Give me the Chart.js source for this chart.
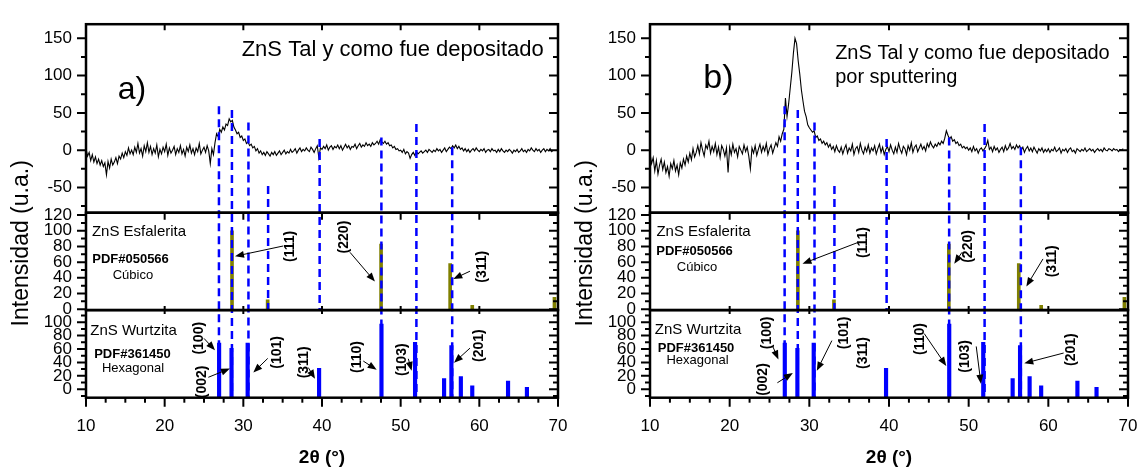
<!DOCTYPE html>
<html lang="es">
<head>
<meta charset="UTF-8">
<title>DRX ZnS</title>
<script src="https://cdn.jsdelivr.net/npm/chart.js"></script>
<style>
  body { margin: 0; background: #fff; }
  .panel { position: absolute; top: 0; height: 473px; }
  #panelA { left: 0; width: 570px; }
  #panelB { left: 570px; width: 571px; }
</style>
</head>
<body>
<div class="panel" id="panelA"><canvas id="chartA"></canvas></div>
<div class="panel" id="panelB"><canvas id="chartB"></canvas></div>
<script>
// 2θ scan: start angle and step (degrees)
const scanStart = 10;
const scanStep = 0.2;

// a) ZnS tal y como fue depositado
const intensityA = [
  2, -8, -3, -14, -6, -16, -9, -18, -12, -20,      // 10
  -14, -22, -17, -33, -15, -24, -12, -20, -16, -10, // 12
  -18, -8, -12, -4, -10, -2, -7, 3, -5, 0,         // 14
  -6, 4, -3, 9, -4, 2, -8, 6, -2, 10,              // 16
  -3, 5, -6, 2, -4, 7, -9, 1, -5, 4,               // 18
  -2, 8, -7, 3, -4, 0, 5, -6, 2, -3,               // 20
  6, -5, 1, -8, 4, -2, 7, -4, 2, -6,               // 22
  3, -2, 9, -5, 0, 4, -3, 6, -1, -18,              // 24
  2, -6, 10, 22, 18, 28, 24, 31, 27, 35,           // 26
  33, 42, 38, 40, 31, 27, 22, 24, 17, 19,          // 28
  13, 15, 9, 11, 6, 8, 3, 5, -1, 2,                // 30
  -4, -1, -6, -3, -7, -2, -5, -8, -3, -6,          // 32
  -2, -7, -4, -1, -6, -3, 0, -5, -2, -4,           // 34
  1, -3, -1, 2, -4, 0, 3, -2, 1, -1,               // 36
  3, 0, -2, 4, 1, -3, 2, 6, -10, 3,                // 38
  1, 5, 2, 7, 0, 4, 6, 1, 5, 3,                    // 40
  7, 2, 6, 0, 4, 8, 3, 6, 1, 5,                    // 42
  4, 8, 2, 6, 9, 4, 7, 5, 10, 6,                   // 44
  8, 5, 10, 7, 9, 12, 8, 14, 11, 9,                // 46
  12, 8, 10, 6, 7, 3, 5, 1, 2, -1,                 // 48
  0, -3, 1, -5, -2, -4, -11, -6, -3, -7,           // 50
  -2, -5, -3, -1, -4, -2, 0, -3, 1, -1,            // 52
  -3, 0, -2, 2, -1, 1, -3, 0, 3, -2,               // 54
  1, 4, 2, 6, 3, 7, 2, 5, 1, 3,                    // 56
  -1, 2, -2, 1, -3, 0, 2, -1, 3, 0,                // 58
  -2, 1, -1, 2, -3, 0, 1, -2, 2, -1,               // 60
  0, -3, 1, -2, 2, -1, -3, 0, -2, 1,               // 62
  -1, -4, 0, -2, 1, -3, -1, 2, -2, 0,              // 64
  -3, 1, -1, 3, 0, -2, 2, -1, 1, -3,               // 66
  0, 2, -2, 1, -1, 2, -2, 0                        // 68
];

// b) ZnS tal y como fue depositado por sputtering
const intensityB = [
  -4, -18, -10, -28, -14, -32, -20, -12, -26, -16,   // 10
  -30, -22, -35, -18, -25, -14, -28, -20, -33, -17,  // 12
  -24, -12, -20, -8, -16, -4, -13, 2, -9, -3,        // 14
  6, -5, 10, 0, -8, 7, 2, 12, -4, 5,                 // 16
  -2, 9, -6, 4, -10, 6, 1, -8, 3, -30,               // 18
  4, -6, 8, -3, 2, -9, 5, 0, -5, 7,                  // 20
  -2, 4, -8, -25, 3, -4, 6, -7, 1, 8,                // 22
  -3, 5, -1, 9, -6, 2, 7, -4, 3, 10,                 // 24
  5, 18, 12, 22, 28, 70, 45, 62, 83, 104,            // 26
  130, 150, 143, 120, 102, 81, 66, 52, 45, 34,       // 28
  30, 27, 24, 26, 17, 19, 13, 15, 9, 12,             // 30
  7, 10, 4, 8, 1, 5, -2, 6, 0, -3,                   // 32
  4, -5, 2, 7, -4, 3, -1, 8, -6, 2,                  // 34
  5, -3, 9, 0, -5, 4, -2, 7, -4, 3,                  // 36
  -1, 6, -5, 2, 8, -3, 4, -6, 1, 5,                  // 38
  -2, 7, 0, -5, 4, -3, 9, 1, -4, 5,                  // 40
  2, -6, 6, 0, 10, -3, 4, 7, -2, 3,                  // 42
  8, 1, 5, -1, 9, 4, 11, 6, 3, 8,                    // 44
  5, 10, 7, 12, 9, 16, 26, 20, 15, 18,               // 46
  12, 14, 9, 11, 6, 8, 3, 5, 2, 4,                   // 48
  0, 3, -2, 5, -1, 2, -4, 1, 3, -1,                  // 50
  2, 6, 13, 1, 4, -2, 5, 0, 3, -3,                   // 52
  1, 4, -2, 6, 0, 3, 9, 2, 5, 1,                     // 54
  7, 3, 6, 0, 4, -3, 2, 5, -1, 3,                    // 56
  -2, 4, 0, -4, 2, -1, 3, -3, 1, -2,                 // 58
  2, -3, 1, -1, 4, -2, 0, 3, -4, 1,                  // 60
  -1, 2, -3, 1, 3, -2, 0, -4, 2, 0,                  // 62
  -2, 1, -1, 3, -2, 0, 2, -1, 1, -3,                 // 64
  0, 2, -1, 1, -2, 3, 0, -1, 2, 1,                   // 66
  -1, 2, 0, 1, -2, 1, 0, 2                           // 68
];

// ZnS Esfalerita, PDF#050566 (cúbico)
const esfaleritaPos = [28.56, 33.09, 47.51, 56.29, 59.1, 69.55];
const esfaleritaInt = [100, 12, 83, 58, 5, 15];

// ZnS Wurtzita, PDF#361450 (hexagonal)
const wurtzitaPos = [26.92, 28.5, 30.55, 39.63, 47.56, 51.83, 55.52, 56.45, 57.65, 59.1, 63.65, 66.05];
const wurtzitaInt = [69, 61, 69, 31, 97, 70, 16, 65, 19, 5, 12, 3];

// dashed guide lines: position, top (in the pattern axis) and the panel they end in
const guidePos = [26.9, 28.55, 30.65, 33.15, 39.7, 47.55, 52.0, 56.55];
const guideTop = [59, 54, 37, -48, 15, 17, 35, 4];
const guideEnd = ['y3', 'y3', 'y3', 'y2', 'y2', 'y3', 'y3', 'y3'];

// axis ranges of the three stacked frames
const y1Range = [-84, 169];
const y2Range = [-1.2, 123];
const y3Range = [-12.6, 118];

const FONT = '"Liberation Sans", Arial, sans-serif';
const BLUE = '#0000ff';
const OLIVE = '#808000';

// panel annotations
const panelA = {
  axisWidth: 86,
  padRight: 12,
  yTitleX: 22,
  texts: [
    ['ZnS Tal y como fue depositado', 29.79, 126, 'y1', '22px', 'left', 'alphabetic'],
    ['a)', 15.85, 80, 'y1', '32px', 'center', 'middle'],
    ['ZnS Esfalerita', 16.74, 98.3, 'y2', '15px', 'center', 'middle'],
    ['PDF#050566', 15.66, 64, 'y2', 'bold 13px', 'center', 'middle'],
    ['Cúbico', 15.97, 42.7, 'y2', '13px', 'center', 'middle'],
    ['ZnS Wurtzita', 16.04, 87, 'y3', '15px', 'center', 'middle'],
    ['PDF#361450', 15.91, 51.7, 'y3', 'bold 13px', 'center', 'middle'],
    ['Hexagonal', 15.97, 30.9, 'y3', '13px', 'center', 'middle']
  ],
  hkl: [
    ['(111)', 35.93, 80, 'y2'],
    ['(220)', 42.79, 92, 'y2'],
    ['(311)', 60.30, 54, 'y2'],
    ['(100)', 24.36, 76, 'y3'],
    ['(002)', 24.71, 11, 'y3'],
    ['(101)', 34.24, 55, 'y3'],
    ['(311)', 37.75, 40, 'y3'],
    ['(110)', 44.41, 48, 'y3'],
    ['(103)', 50.13, 44, 'y3'],
    ['(201)', 59.96, 65, 'y3']
  ],
  arrows: [
    ['y2', 35.08, 80.6, 28.94, 67.5],
    ['y2', 43.56, 72.5, 46.73, 35.2],
    ['y2', 58.81, 48.4, 56.69, 38.5],
    ['y3', 25.0, 75.8, 26.4, 58],
    ['y3', 25.55, 17.8, 28.3, 30.9],
    ['y3', 33.1, 46, 31.27, 25],
    ['y3', 38.26, 32.3, 39.11, 15.5],
    ['y3', 45.25, 42, 46.95, 29],
    ['y3', 50.97, 45.4, 51.4, 27.5],
    ['y3', 58.81, 61.3, 56.78, 39.6]
  ]
};

const panelB = {
  axisWidth: 80,
  padRight: 13,
  yTitleX: 16,
  texts: [
    ['ZnS Tal y como fue depositado', 33.24, 122.3, 'y1', '20px', 'left', 'alphabetic'],
    ['por sputtering', 33.24, 90.5, 'y1', '20px', 'left', 'alphabetic'],
    ['b)', 18.58, 95.7, 'y1', '34px', 'center', 'middle'],
    ['ZnS Esfalerita', 16.72, 98.9, 'y2', '15px', 'center', 'middle'],
    ['PDF#050566', 15.59, 74, 'y2', 'bold 13px', 'center', 'middle'],
    ['Cúbico', 15.9, 53, 'y2', '13px', 'center', 'middle'],
    ['ZnS Wurtzita', 16.03, 88.4, 'y3', '15px', 'center', 'middle'],
    ['PDF#361450', 15.78, 61.3, 'y3', 'bold 13px', 'center', 'middle'],
    ['Hexagonal', 15.97, 43.5, 'y3', '13px', 'center', 'middle']
  ],
  hkl: [
    ['(111)', 36.80, 85, 'y2'],
    ['(220)', 49.99, 80, 'y2'],
    ['(311)', 60.54, 61, 'y2'],
    ['(100)', 24.66, 84, 'y3'],
    ['(002)', 24.23, 14.5, 'y3'],
    ['(101)', 34.37, 84, 'y3'],
    ['(311)', 36.80, 54, 'y3'],
    ['(110)', 43.92, 75, 'y3'],
    ['(103)', 49.57, 49, 'y3'],
    ['(201)', 62.85, 59, 'y3']
  ],
  arrows: [
    ['y2', 36.05, 84.9, 29.14, 58],
    ['y2', 49.16, 72.5, 48.19, 57.9],
    ['y2', 59.33, 64.1, 57.24, 29],
    ['y3', 25.41, 63.8, 26.12, 44.5],
    ['y3', 25.99, 9.7, 27.93, 24.2],
    ['y3', 32.83, 72.5, 30.94, 27.5],
    ['y3', 44.42, 83, 47.19, 34.8],
    ['y3', 50.95, 63.8, 51.54, 8.3],
    ['y3', 61.92, 54, 56.98, 38.7]
  ]
};

Chart.defaults.font.family = FONT;
Chart.defaults.color = '#000';

function drawArrow(ctx, x0, y0, x1, y1) {
  const ang = Math.atan2(y1 - y0, x1 - x0);
  const len = 9, half = 3.5;
  ctx.beginPath();
  ctx.moveTo(x0, y0);
  ctx.lineTo(x1 - Math.cos(ang) * len * 0.8, y1 - Math.sin(ang) * len * 0.8);
  ctx.stroke();
  ctx.beginPath();
  ctx.moveTo(x1, y1);
  ctx.lineTo(x1 - Math.cos(ang) * len - Math.sin(ang) * half, y1 - Math.sin(ang) * len + Math.cos(ang) * half);
  ctx.lineTo(x1 - Math.cos(ang) * len + Math.sin(ang) * half, y1 - Math.sin(ang) * len - Math.cos(ang) * half);
  ctx.closePath();
  ctx.fill();
}

// frames, tick marks, guide lines and labels drawn over the datasets
const decorPlugin = {
  id: 'decor',
  afterDatasetsDraw(chart, args, opts) {
    const { ctx, chartArea: area, scales } = chart;
    const xs = scales.x;
    const panel = opts.panel;
    ctx.save();

    // dashed guide lines
    ctx.strokeStyle = BLUE;
    ctx.lineWidth = 2.5;
    ctx.setLineDash([8, 5]);
    guidePos.forEach((pos, i) => {
      const px = xs.getPixelForValue(pos);
      ctx.beginPath();
      ctx.moveTo(px, scales.y1.getPixelForValue(guideTop[i]));
      ctx.lineTo(px, scales[guideEnd[i]].bottom);
      ctx.stroke();
    });
    ctx.setLineDash([]);

    // frames
    ctx.strokeStyle = '#000';
    ctx.lineWidth = 2.5;
    ['y1', 'y2', 'y3'].forEach(id => {
      const s = scales[id];
      ctx.strokeRect(area.left, s.top, area.right - area.left, s.bottom - s.top);
    });

    // y ticks: outward on the left, inward on the right
    ctx.lineWidth = 2;
    ['y1', 'y2', 'y3'].forEach(id => {
      const s = scales[id];
      s.ticks.forEach(t => {
        const py = s.getPixelForValue(t.value);
        if (py < s.top - 0.5 || py > s.bottom + 0.5) return;
        const len = t.label !== '' ? 9 : 5;
        ctx.beginPath();
        ctx.moveTo(area.left, py); ctx.lineTo(area.left - len, py);
        ctx.moveTo(area.right, py); ctx.lineTo(area.right - len, py);
        ctx.stroke();
      });
    });

    // x ticks
    for (let v = xs.min; v <= xs.max + 0.01; v += 2.5) {
      const px = xs.getPixelForValue(v);
      const major = Math.abs(v % 10) < 0.01;
      ctx.beginPath();
      ctx.moveTo(px, area.bottom); ctx.lineTo(px, area.bottom + (major ? 9 : 5));
      if (major && v > xs.min && v < xs.max) {
        ctx.moveTo(px, area.top); ctx.lineTo(px, area.top + 6);
        ctx.moveTo(px, scales.y2.top); ctx.lineTo(px, scales.y2.top + 7);
        ctx.moveTo(px, scales.y3.top - 4); ctx.lineTo(px, scales.y3.top + 4);
      }
      ctx.stroke();
    }

    // free text
    ctx.fillStyle = '#000';
    panel.texts.forEach(([txt, x, y, axis, font, align, base]) => {
      ctx.font = font + ' ' + FONT;
      ctx.textAlign = align;
      ctx.textBaseline = base;
      ctx.fillText(txt, xs.getPixelForValue(x), scales[axis].getPixelForValue(y));
    });

    // Miller indices, rotated
    ctx.font = 'bold 14px ' + FONT;
    ctx.textAlign = 'center';
    ctx.textBaseline = 'middle';
    panel.hkl.forEach(([txt, x, y, axis]) => {
      ctx.save();
      ctx.translate(xs.getPixelForValue(x), scales[axis].getPixelForValue(y));
      ctx.rotate(-Math.PI / 2);
      ctx.fillText(txt, 0, 0);
      ctx.restore();
    });

    // arrows
    ctx.lineWidth = 1;
    panel.arrows.forEach(([axis, x0, y0, x1, y1]) => {
      const s = scales[axis];
      drawArrow(ctx, xs.getPixelForValue(x0), s.getPixelForValue(y0),
                xs.getPixelForValue(x1), s.getPixelForValue(y1));
    });

    // y axis title
    ctx.save();
    ctx.font = '23px ' + FONT;
    ctx.translate(panel.yTitleX, scales.y2.getPixelForValue(84));
    ctx.rotate(-Math.PI / 2);
    ctx.fillText('Intensidad (u.a.)', 0, 0);
    ctx.restore();

    ctx.restore();
  }
};

function yScale(range, step, labelStep, weight, panel, hi) {
  return {
    type: 'linear',
    position: 'left',
    stack: 'xrd',
    stackWeight: weight,
    min: range[0],
    max: range[1],
    grid: { display: false, drawTicks: false },
    border: { display: false },
    ticks: {
      stepSize: step,
      includeBounds: false,
      autoSkip: false,
      padding: 14,
      font: { size: 17 },
      callback: v => (v % labelStep === 0 && v >= (hi ? hi[0] : -1e9) && v <= (hi ? hi[1] : 1e9)) ? v : ''
    },
    afterFit: s => { s.width = panel.axisWidth; }
  };
}

function buildPanel(canvasId, intensity, panel) {
  const curve = intensity.map((v, i) => ({ x: scanStart + i * scanStep, y: v }));
  new Chart(document.getElementById(canvasId), {
    type: 'line',
    data: {
      datasets: [
        {
          type: 'line',
          data: curve,
          yAxisID: 'y1',
          borderColor: '#000',
          borderWidth: 1.1,
          pointRadius: 0,
          tension: 0
        },
        {
          type: 'bar',
          data: esfaleritaPos.map((x, i) => ({ x, y: esfaleritaInt[i] })),
          yAxisID: 'y2',
          backgroundColor: OLIVE,
          barThickness: 3,
          grouped: false,
          base: y2Range[0]
        },
        {
          type: 'bar',
          data: wurtzitaPos.map((x, i) => ({ x, y: wurtzitaInt[i] })),
          yAxisID: 'y3',
          backgroundColor: BLUE,
          barThickness: 3.5,
          grouped: false,
          base: y3Range[0]
        }
      ]
    },
    options: {
      responsive: true,
      maintainAspectRatio: false,
      animation: false,
      layout: { padding: { top: 14, right: panel.padRight, left: 0, bottom: 0 } },
      plugins: {
        legend: { display: false },
        tooltip: { enabled: false },
        decor: { panel }
      },
      scales: {
        x: {
          type: 'linear',
          min: 10,
          max: 70,
          offset: false,
          grid: { display: false, drawTicks: false, offset: false },
          border: { display: false },
          ticks: { stepSize: 10, padding: 18, font: { size: 17 } },
          title: {
            display: true,
            text: '2θ (°)',
            font: { size: 19, weight: 'bold' },
            padding: { top: 0, bottom: 4 }
          },
          afterFit: s => {
            s.height = 75.3;
            s.paddingLeft = 0;
            s.paddingRight = 0;
          }
        },
        y3: yScale(y3Range, 10, 20, 90, panel, [0, 100]),
        y2: yScale(y2Range, 10, 20, 100, panel),
        y1: yScale(y1Range, 25, 50, 193.7, panel)
      }
    },
    plugins: [decorPlugin]
  });
}

buildPanel('chartA', intensityA, panelA);
buildPanel('chartB', intensityB, panelB);
</script>
</body>
</html>
